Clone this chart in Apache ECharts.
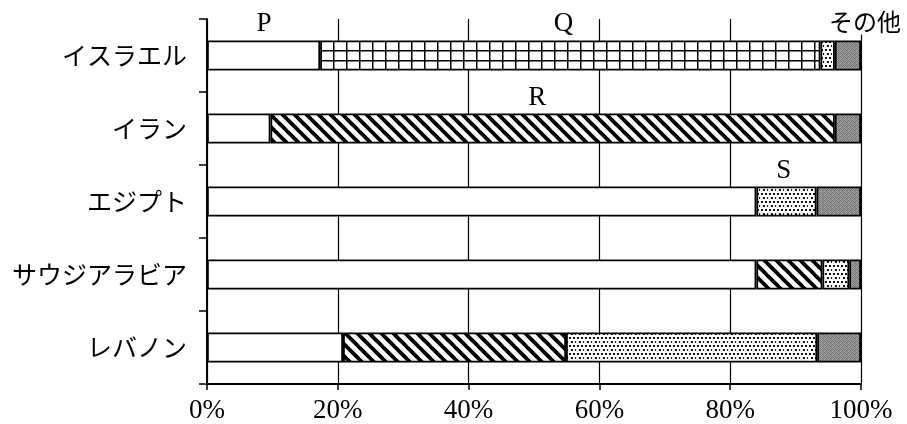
<!DOCTYPE html>
<html><head><meta charset="utf-8">
<script src="https://cdn.jsdelivr.net/npm/echarts@6/dist/echarts.min.js"></script>
<style>html,body{margin:0;padding:0;background:#fff}#c{width:907px;height:424px}</style>
</head><body><div id="c"></div>
<script>
const categories = ['イスラエル','イラン','エジプト','サウジアラビア','レバノン'];
const seriesNames = ['P','Q','R','S','その他'];
const valuesP = [17.3, 9.7, 84.0, 84.0, 20.8];
const valuesQ = [76.5, 0, 0, 0, 0];
const valuesR = [0, 86.3, 0, 10.1, 34.1];
const valuesS = [2.2, 0, 9.2, 4.1, 38.4];
const valuesOther = [4.0, 4.0, 6.8, 1.8, 6.7];
const xTicks = [0, 20, 40, 60, 80, 100];

function makeTile(w, h, draw) {
  const c = document.createElement('canvas');
  c.width = w; c.height = h;
  const ctx = c.getContext('2d');
  ctx.fillStyle = '#fff'; ctx.fillRect(0, 0, w, h);
  draw(ctx);
  return c;
}
const gridTile = makeTile(13, 10, ctx => {
  ctx.fillStyle = '#000';
  ctx.fillRect(8, 0, 1.5, 10);
  ctx.fillRect(0, 0, 13, 1.5);
});
const hatchTile = makeTile(12, 12, ctx => {
  ctx.strokeStyle = '#000'; ctx.lineWidth = 3.8;
  [-12, 0, 12].forEach(k => { ctx.beginPath(); ctx.moveTo(k - 3, -3); ctx.lineTo(k + 15, 15); ctx.stroke(); });
});
const dotTile = makeTile(8, 8, ctx => {
  ctx.fillStyle = '#111';
  [[1,1],[5,1],[3,5],[7,5]].forEach(p => ctx.fillRect(p[0], p[1], 2, 2));
});
const greyTile = makeTile(4, 4, ctx => {
  const m = [[0x70,0xa0,0x80,0x98],[0x9a,0x78,0xa8,0x72],[0x84,0xa4,0x6c,0x90],[0xa6,0x7c,0x94,0x88]];
  for (let y = 0; y < 4; y++) for (let x = 0; x < 4; x++) {
    const v = m[y][x]; ctx.fillStyle = `rgb(${v},${v},${v})`; ctx.fillRect(x, y, 1, 1);
  }
});

const fills = [
  '#ffffff',
  { image: gridTile, repeat: 'repeat' },
  { image: hatchTile, repeat: 'repeat' },
  { image: dotTile, repeat: 'repeat' },
  { image: greyTile, repeat: 'repeat' }
];
const allValues = [valuesP, valuesQ, valuesR, valuesS, valuesOther];

const chart = echarts.init(document.getElementById('c'), null, { renderer: 'canvas' });
const option = {
  animation: false,
  backgroundColor: '#fff',
  grid: { left: 207, right: 46, top: 19, bottom: 38, containLabel: false },
  xAxis: {
    type: 'value', min: xTicks[0], max: xTicks[xTicks.length - 1], interval: 20,
    axisLine: { show: true, lineStyle: { color: '#000', width: 2 } },
    axisTick: { show: true, length: 6, lineStyle: { color: '#000', width: 1.5 } },
    axisLabel: { formatter: '{value}%', color: '#000', fontSize: 27, fontFamily: 'Liberation Serif', margin: 13 },
    splitLine: { show: true, lineStyle: { color: '#000', width: 1.2 } }
  },
  yAxis: {
    type: 'category', data: categories, inverse: true,
    axisLine: { show: true, lineStyle: { color: '#000', width: 2 } },
    axisTick: { show: true, length: 8, alignWithLabel: false, lineStyle: { color: '#000', width: 1.5 } },
    axisLabel: { color: '#000', fontSize: 25, fontFamily: 'Noto Sans CJK JP', margin: 20 },
    splitLine: { show: false }
  },
  series: seriesNames.map((name, i) => ({
    name, type: 'bar', stack: 'total', barWidth: 30,
    data: allValues[i].map(v => v === 0 ? null : v),
    itemStyle: { color: fills[i], borderColor: '#000', borderWidth: 1.8 },
    z: 3
  }))
};
chart.setOption(option);

const annotations = [
  { text: 'P', x: 8.7, cat: 'イスラエル', dy: -32 },
  { text: 'Q', x: 54.5, cat: 'イスラエル', dy: -32 },
  { text: 'R', x: 50.5, cat: 'イラン', dy: -31 },
  { text: 'S', x: 88.2, cat: 'エジプト', dy: -31 },
  { text: 'その他', x: 100.6, cat: 'イスラエル', dy: -34, cjk: true }
];
chart.setOption({
  graphic: annotations.map(a => {
    const p = chart.convertToPixel({ gridIndex: 0 }, [a.x, a.cat]);
    return {
      type: 'text', x: p[0], y: p[1] + a.dy, z: 100,
      style: {
        text: a.text, fill: '#000', align: 'center', verticalAlign: 'middle',
        font: a.cjk ? '24px "Noto Sans CJK JP"' : '27px "Liberation Serif"',
        backgroundColor: a.cjk ? '#fff' : null, padding: a.cjk ? [1, 2] : 0
      }
    };
  })
});
</script></body></html>
